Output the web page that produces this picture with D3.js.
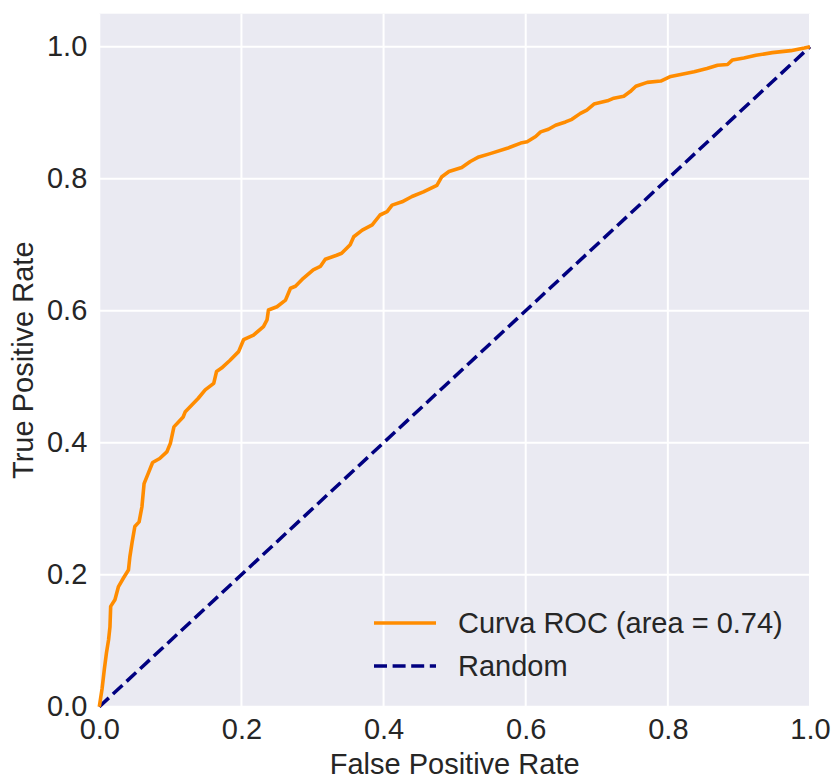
<!DOCTYPE html>
<html>
<head>
<meta charset="utf-8">
<script src="https://cdn.jsdelivr.net/npm/d3@7"></script>
<style>
  body { margin: 0; background: #fff; }
  text { font-family: "Liberation Sans", Arial, sans-serif; fill: #262626; }
</style>
</head>
<body>
<script>
// ROC curve (false positive rate, true positive rate)
var fpr = [0, 0.004, 0.007, 0.010, 0.013, 0.015, 0.016, 0.022, 0.027, 0.034, 0.041, 0.043, 0.046, 0.050,
  0.056, 0.060, 0.063, 0.069, 0.075, 0.085, 0.095, 0.100, 0.105, 0.118, 0.121, 0.139, 0.149, 0.161,
  0.165, 0.172, 0.184, 0.196, 0.203, 0.217, 0.231, 0.236, 0.238, 0.250, 0.262, 0.269, 0.276, 0.287,
  0.301, 0.311, 0.318, 0.334, 0.341, 0.353, 0.358, 0.370, 0.384, 0.395, 0.405, 0.412, 0.426, 0.440,
  0.456, 0.475, 0.482, 0.492, 0.510, 0.522, 0.534, 0.550, 0.574, 0.593, 0.602, 0.614, 0.621, 0.632,
  0.642, 0.656, 0.665, 0.677, 0.686, 0.696, 0.715, 0.724, 0.738, 0.747, 0.755, 0.771, 0.790, 0.804,
  0.818, 0.837, 0.855, 0.870, 0.884, 0.891, 0.907, 0.924, 0.947, 0.973, 0.992, 1.0];
var tpr = [0, 0.028, 0.056, 0.081, 0.101, 0.121, 0.152, 0.162, 0.182, 0.195, 0.207, 0.227, 0.248, 0.273,
  0.280, 0.303, 0.338, 0.354, 0.370, 0.376, 0.386, 0.399, 0.424, 0.439, 0.447, 0.467, 0.480, 0.490,
  0.508, 0.513, 0.525, 0.538, 0.556, 0.563, 0.576, 0.586, 0.601, 0.606, 0.616, 0.634, 0.637, 0.649,
  0.662, 0.667, 0.678, 0.684, 0.687, 0.700, 0.712, 0.722, 0.730, 0.745, 0.750, 0.760, 0.765, 0.773,
  0.780, 0.790, 0.803, 0.811, 0.817, 0.826, 0.833, 0.838, 0.846, 0.854, 0.856, 0.864, 0.871, 0.875,
  0.881, 0.886, 0.890, 0.899, 0.904, 0.913, 0.918, 0.922, 0.925, 0.932, 0.940, 0.946, 0.948, 0.955,
  0.958, 0.962, 0.967, 0.972, 0.973, 0.980, 0.983, 0.987, 0.991, 0.994, 0.998, 1.0];
var randomLine = [[0, 0], [1, 1]];
var xTicks = [0, 0.2, 0.4, 0.6, 0.8, 1.0];
var yTicks = [0, 0.2, 0.4, 0.6, 0.8, 1.0];
var legendLabels = ["Curva ROC (area = 0.74)", "Random"];

var width = 833, height = 778;
var margin = {top: 13.7, right: 23, bottom: 71.3, left: 99.3};
var iw = width - margin.left - margin.right,
    ih = height - margin.top - margin.bottom;
var fs = "29px";

var svg = d3.select("body").append("svg")
    .attr("width", width)
    .attr("height", height);

var x = d3.scaleLinear().domain([0, 1]).range([0, iw]);
var y = d3.scaleLinear().domain([0, 1.05]).range([ih, 0]);

var g = svg.append("g")
    .attr("transform", "translate(" + margin.left + "," + margin.top + ")");

// seaborn darkgrid background
g.append("rect")
    .attr("width", iw)
    .attr("height", ih)
    .attr("fill", "#eaeaf2");

g.selectAll(".vgrid").data(xTicks).enter().append("line")
    .attr("x1", d => x(d)).attr("x2", d => x(d))
    .attr("y1", 0).attr("y2", ih)
    .attr("stroke", "#fff").attr("stroke-width", 2);
g.selectAll(".hgrid").data(yTicks).enter().append("line")
    .attr("x1", 0).attr("x2", iw)
    .attr("y1", d => y(d)).attr("y2", d => y(d))
    .attr("stroke", "#fff").attr("stroke-width", 2);

var xAxis = g.append("g")
    .attr("transform", "translate(0," + ih + ")")
    .call(d3.axisBottom(x).tickValues(xTicks).tickFormat(d3.format(".1f")).tickSize(0).tickPadding(12));
var yAxis = g.append("g")
    .call(d3.axisLeft(y).tickValues(yTicks).tickFormat(d3.format(".1f")).tickSize(0).tickPadding(12));
[xAxis, yAxis].forEach(function(a) {
  a.select(".domain").remove();
  a.selectAll("text")
    .style("font-family", "'Liberation Sans', Arial, sans-serif")
    .style("font-size", fs)
    .attr("fill", "#262626");
});

var line = d3.line().x(d => x(d[0])).y(d => y(d[1]));

g.append("path")
    .datum(randomLine)
    .attr("d", line)
    .attr("fill", "none")
    .attr("stroke", "#000080")
    .attr("stroke-width", 3.5)
    .attr("stroke-dasharray", "13,5.6");

g.append("path")
    .datum(fpr.map((d, i) => [d, tpr[i]]))
    .attr("d", line)
    .attr("fill", "none")
    .attr("stroke", "#ff8c00")
    .attr("stroke-width", 3.6)
    .attr("stroke-linejoin", "round");

// legend
var legendColors = ["#ff8c00", "#000080"];
var legendDash = [null, "13,5.6"];
var lg = svg.append("g").attr("transform", "translate(374,623)");
legendLabels.forEach(function(lab, i) {
  var row = lg.append("g").attr("transform", "translate(0," + (i * 43) + ")");
  row.append("line")
    .attr("x1", 0).attr("x2", 62)
    .attr("stroke", legendColors[i])
    .attr("stroke-width", 3.5)
    .attr("stroke-dasharray", legendDash[i]);
  row.append("text")
    .attr("x", 84).attr("y", 10)
    .style("font-size", fs)
    .text(lab);
});

svg.append("text")
    .attr("x", margin.left + iw / 2)
    .attr("y", 774)
    .attr("text-anchor", "middle")
    .style("font-size", fs)
    .text("False Positive Rate");

svg.append("text")
    .attr("transform", "translate(33," + (margin.top + ih / 2) + ") rotate(-90)")
    .attr("text-anchor", "middle")
    .style("font-size", fs)
    .text("True Positive Rate");
</script>
</body>
</html>
